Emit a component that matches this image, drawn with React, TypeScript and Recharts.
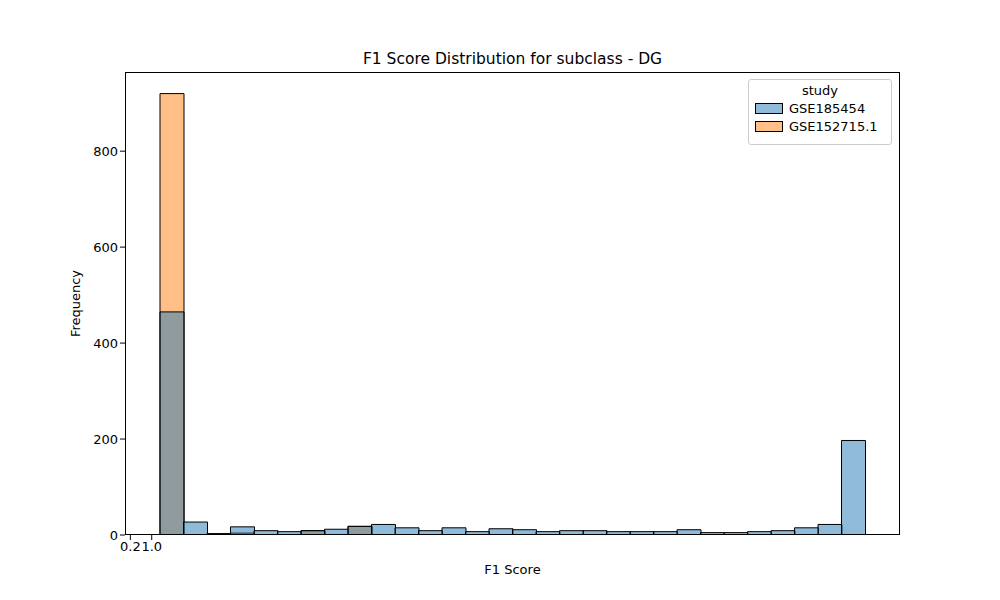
import { Bar, ComposedChart, XAxis, YAxis } from 'recharts'

const binStarts = Array.from({ length: 30 }, (_, i) => i / 30)
const gse185454 = [465, 27, 3, 17, 9, 7, 9, 12, 18, 22, 15, 9, 15, 7, 13, 11, 7, 9, 9, 7, 7, 7, 11, 5, 5, 7, 9, 15, 22, 197]
const gse152715 = [920, 0, 0, 4, 0, 0, 9, 0, 18, 0, 0, 0, 0, 0, 0, 0, 0, 0, 0, 0, 0, 0, 0, 0, 0, 0, 0, 0, 0, 0]
const xTicks = [0, 0.2, 0.4, 0.6, 0.8, 1.0]
const yTicks = [0, 200, 400, 600, 800]

const data = binStarts.map((b, i) => ({ bin: b, blue: gse185454[i], orange: gse152715[i] }))

const font = 'DejaVu Sans, sans-serif'

export default function App() {
  return (
    <div style={{ position: 'relative', width: 1000, height: 600, margin: -8, background: '#fff', fontFamily: font }}>
      <ComposedChart width={1000} height={600} data={data} barCategoryGap={0} margin={{ top: 72, right: 100, bottom: 0, left: 0 }}>
        <XAxis xAxisId="a" dataKey="bin" type="category" hide height={0} padding={{ left: 35, right: 35 }} />
        <XAxis xAxisId="b" dataKey="bin" type="category" hide height={0} padding={{ left: 35, right: 35 }} />
        <XAxis
          xAxisId="num"
          type="number"
          domain={[-0.05, 1.05]}
          ticks={xTicks}
          tickFormatter={(v: number) => v.toFixed(1)}
          height={65}
          axisLine={false}
          tick={{ fill: '#000', fontSize: 13, fontFamily: font }}
          tickLine={{ stroke: '#000' }}
          tickSize={5}
          allowDataOverflow
          label={{ value: 'F1 Score', position: 'insideTop', offset: 30, fill: '#000', fontSize: 13, fontFamily: font }}
        />
        <YAxis
          domain={[0, 965]}
          ticks={yTicks}
          width={125}
          axisLine={false}
          tick={{ fill: '#000', fontSize: 13, fontFamily: font }}
          tickLine={{ stroke: '#000' }}
          tickSize={5}
          allowDataOverflow
          label={{ value: 'Frequency', angle: -90, position: 'insideLeft', offset: 75, fill: '#000', fontSize: 13, fontFamily: font, style: { textAnchor: 'middle' } }}
        />
        <Bar xAxisId="a" dataKey="orange" fill="#ff7f0e" fillOpacity={0.5} stroke="#000" strokeWidth={1} isAnimationActive={false} />
        <Bar xAxisId="b" dataKey="blue" fill="#1f77b4" fillOpacity={0.5} stroke="#000" strokeWidth={1} isAnimationActive={false} />
      </ComposedChart>
      <div style={{ position: 'absolute', left: 125, top: 72, width: 775, height: 463, border: '1px solid #000', boxSizing: 'border-box', pointerEvents: 'none' }} />
      <div style={{ position: 'absolute', top: 50, left: 0, width: 1025, textAlign: 'center', fontSize: 15.5 }}>F1 Score Distribution for subclass - DG</div>
      <div style={{ position: 'absolute', left: 748, top: 79, width: 144, height: 66, border: '1px solid #ccc', borderRadius: 3, boxSizing: 'border-box', fontSize: 13, background: 'rgba(255,255,255,0.8)' }}>
        <div style={{ textAlign: 'center', marginTop: 3 }}>study</div>
        {[
          { name: 'GSE185454', color: 'rgba(31,119,180,0.5)' },
          { name: 'GSE152715.1', color: 'rgba(255,127,14,0.5)' },
        ].map((s) => (
          <div key={s.name} style={{ display: 'flex', alignItems: 'center', marginLeft: 6, marginTop: 3 }}>
            <span style={{ width: 26, height: 9, background: s.color, border: '1px solid #000', marginRight: 6 }} />
            {s.name}
          </div>
        ))}
      </div>
    </div>
  )
}
